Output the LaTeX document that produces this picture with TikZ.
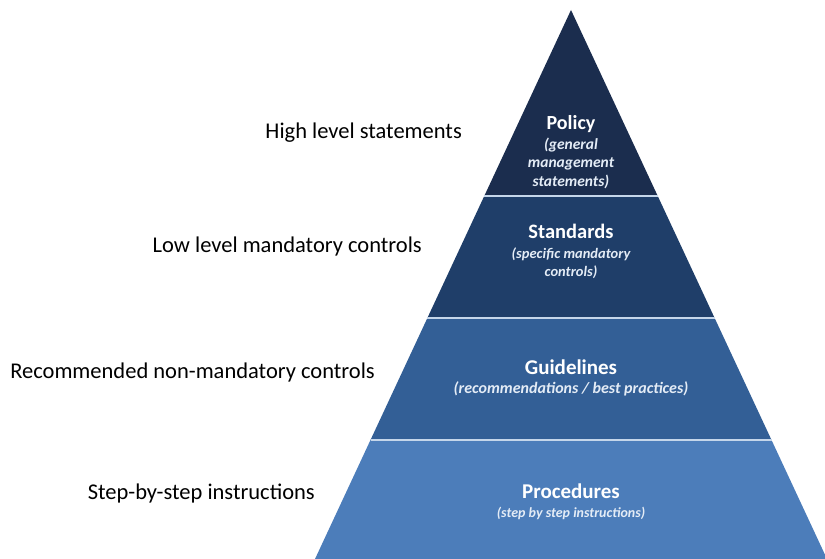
\documentclass[tikz,border=0pt]{standalone}
\usepackage{fontspec}
\setmainfont{Carlito}
\usetikzlibrary{calc}
\definecolor{cpol}{HTML}{1B2D4E}
\definecolor{cstd}{HTML}{1F3E69}
\definecolor{cgde}{HTML}{335F96}
\definecolor{cpro}{HTML}{4C7DBA}
\definecolor{csep}{HTML}{C5D6EA}
\definecolor{ctxt}{HTML}{E4ECF6}
\newcommand{\fsz}[2]{\fontsize{#1}{#2}\selectfont}
\begin{document}
\begin{tikzpicture}[x=1pt,y=-1pt,
  sepline/.style={draw=csep,line width=2.5pt},
  title/.style={text=white,font=\bfseries\fsz{#1}{24},inner sep=0pt},
  subt/.style 2 args={text=ctxt,font=\bfseries\itshape\fsz{#1}{#2},align=center,inner sep=0pt},
  lab/.style={text=black,font=\fsz{22.5}{26},inner sep=0pt,anchor=east}]
\useasboundingbox (0,0) rectangle (825,559);
\coordinate (A) at (571,10);
\coordinate (L) at (315,559);
\coordinate (R) at (827,559);
\coordinate (L1) at ($(A)!0.3388!(L)$);
\coordinate (R1) at ($(A)!0.3388!(R)$);
\coordinate (L2) at ($(A)!0.5610!(L)$);
\coordinate (R2) at ($(A)!0.5610!(R)$);
\coordinate (L3) at ($(A)!0.7832!(L)$);
\coordinate (R3) at ($(A)!0.7832!(R)$);
\fill[cpol] (A) -- (L1) -- (R1) -- cycle;
\fill[cstd] (L1) -- (L2) -- (R2) -- (R1) -- cycle;
\fill[cgde] (L2) -- (L3) -- (R3) -- (R2) -- cycle;
\fill[cpro] (L3) -- (L) -- (R) -- (R3) -- cycle;
\draw[sepline] (L1) -- (R1);
\draw[sepline] (L2) -- (R2);
\draw[sepline] (L3) -- (R3);
% pyramid texts
\node[title=20] (pol) at (571,124) {Policy};
\node[subt={15.5}{18.5}] (pols) at (571,163) {(general\\management\\statements)};
\node[title=20.5] (std) at (571,231) {Standards};
\node[subt={14.5}{18}] (stds) at (571,263) {(specific mandatory\\controls)};
\node[title=21] (gde) at (571,367) {Guidelines};
\node[subt={16}{18}] (gdes) at (571,389) {(recommendations / best practices)};
\node[title=21] (pro) at (571,491) {Procedures};
\node[subt={14}{16}] (pros) at (571,513) {(step by step instructions)};
% left labels
\node[lab] (l1) at (462,133) {High level statements};
\node[lab] (l2) at (422,247) {Low level mandatory controls};
\node[lab] (l3) at (375,372) {Recommended non-mandatory controls};
\node[lab] (l4) at (315,493) {Step-by-step instructions};
\end{tikzpicture}
\end{document}
